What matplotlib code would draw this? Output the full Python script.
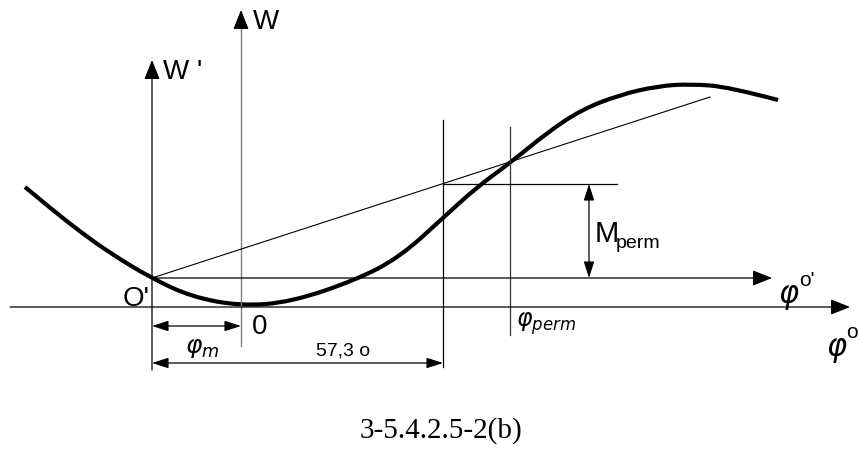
import matplotlib
matplotlib.use('Agg')
import matplotlib.pyplot as plt
from matplotlib.path import Path
from matplotlib.patches import PathPatch

plt.rcParams['font.family'] = ['Liberation Sans', 'DejaVu Sans']
plt.rcParams['mathtext.fontset'] = 'dejavusans'

# curve W(phi), units measured from origin 0 (phi right, W up)
phi = [-216, -186, -159, -131, -90, -49, 0, 50, 115, 159,
       203, 236, 269, 307, 340, 378, 417, 450, 488, 537]
W = [120, 95, 74, 54, 29, 10, 1, 5, 27, 50,
     90, 120, 144, 175, 197, 212, 221, 223, 220, 207]

# key points
o_prime = (-89, 29)
tangent_end = (469, 210)
phi_573 = 202      # O' + 57,3 deg
phi_perm = 269
M_top = 123

fig = plt.figure(figsize=(8.59, 4.53), dpi=100)
ax = fig.add_axes([0, 0, 1, 1])
ax.set_xlim(-241, 618)
ax.set_ylim(-146, 307)
ax.axis('off')

def arrow(tail, tip, color='k', big=True, both=False):
    if big:
        st = '-|>,head_length=0.6,head_width=0.24'
    else:
        st = '<|-|>,head_length=0.5,head_width=0.16' if both else '-|>,head_length=0.5,head_width=0.16'
    ax.annotate('', xy=tip, xytext=tail,
                arrowprops=dict(arrowstyle=st, mutation_scale=20, lw=0.9,
                                color=color, shrinkA=0, shrinkB=0))

# axes
arrow((-231, 0), (609, 0))                          # phi
arrow((o_prime[0], o_prime[1]), (531, o_prime[1]))  # phi o'
arrow((o_prime[0], -63), (o_prime[0], 247))         # W'
ax.plot([0, 0], [-39, 285], color='#808080', lw=1.0)  # W (grey shaft)
arrow((0, 280), (0, 297))

# thin construction lines
ax.plot([o_prime[0], tangent_end[0]], [o_prime[1], tangent_end[1]], color='k', lw=0.8)
ax.plot([phi_573, phi_573], [-60, 187], color='k', lw=0.9)
ax.plot([phi_perm, phi_perm], [-28, 180], color='#333333', lw=0.9)
ax.plot([phi_573, 376], [M_top, M_top], color='k', lw=0.9)

# dimensions
arrow((348, o_prime[1]), (348, M_top), big=False, both=True)
arrow((o_prime[0], -19), (0, -19), big=False, both=True)
arrow((o_prime[0], -56), (phi_573, -56), big=False, both=True)

# curve: smooth quadratic path using the read points as control points
verts = [(phi[0], W[0])]
codes = [Path.MOVETO]
for i in range(1, len(phi) - 1):
    mid = ((phi[i] + phi[i + 1]) / 2, (W[i] + W[i + 1]) / 2)
    if i == len(phi) - 2:
        mid = (phi[-1], W[-1])
    verts += [(phi[i], W[i]), mid]
    codes += [Path.CURVE3, Path.CURVE3]
ax.add_patch(PathPatch(Path(verts, codes), facecolor='none', edgecolor='k',
                       lw=3.0, capstyle='butt'))

# labels
ax.text(12, 285, 'W', fontsize=20, va='center', ha='left')
ax.text(-78, 235, "W '", fontsize=20, va='center', ha='left')
ax.text(-91, 8, "O'", fontsize=20, va='center', ha='right')
ax.text(11, -20, '0', fontsize=20, va='center', ha='left')
ax.text(-39, -41, r'$\varphi_m$', fontsize=18, va='center', ha='center')
ax.text(102, -44, '57,3 o', fontsize=14, va='center', ha='center')
ax.text(275, -17, r'$\varphi_{perm}$', fontsize=17, va='center', ha='left')
ax.text(354, 73, 'M', fontsize=21, va='center', ha='left')
ax.text(375, 64, 'perm', fontsize=14, va='center', ha='left')
ax.text(537, 10, r'$\varphi$', fontsize=22, va='center', ha='left')
ax.text(558, 27, "o'", fontsize=15, va='center', ha='left')
ax.text(585, -43, r'$\varphi$', fontsize=22, va='center', ha='left')
ax.text(605, -25, 'o', fontsize=15, va='center', ha='left')

ax.text(200, -124, '3-5.4.2.5-2(b)', fontsize=21, va='center', ha='center',
        family='Liberation Serif')

fig.savefig('out.png', dpi=100)
